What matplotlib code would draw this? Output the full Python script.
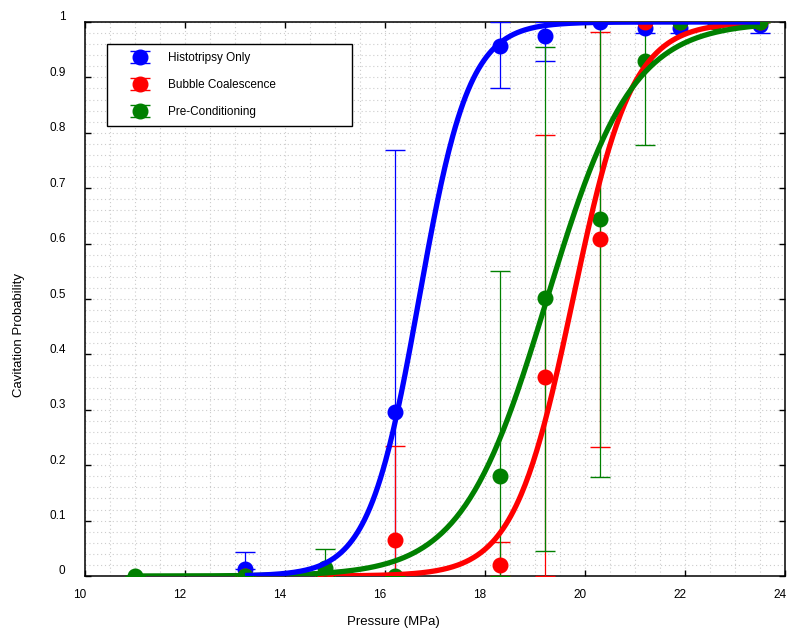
import matplotlib
matplotlib.use("Agg")
import matplotlib.pyplot as plt
import matplotlib.transforms as mtrans
from matplotlib.ticker import MultipleLocator
import numpy as np

plt.rcParams['font.family'] = ['Liberation Sans', 'DejaVu Sans']

# Histotripsy only
p_hist = [13.2, 16.2, 18.3, 19.2, 20.3, 21.2, 21.9, 22.6, 23.5]
y_hist = [0.013, 0.296, 0.957, 0.975, 1.0, 0.99, 0.99, 1.0, 0.995]
lo_hist = [0.013, 0.0, 0.881, 0.93, 1.0, 0.98, 0.98, 1.0, 0.98]
hi_hist = [0.043, 0.769, 1.0, 1.0, 1.0, 1.0, 1.0, 1.0, 1.0]

# Bubble coalescence
p_bub = [13.2, 14.8, 16.2, 18.3, 19.2, 20.3, 21.2, 21.9, 22.6, 23.5]
y_bub = [0.0, 0.0, 0.065, 0.02, 0.36, 0.608, 1.0, 1.0, 1.0, 1.0]
lo_bub = [0.0, 0.0, 0.0, 0.0, 0.0, 0.233, 1.0, 1.0, 1.0, 1.0]
hi_bub = [0.0, 0.0, 0.235, 0.061, 0.796, 0.982, 1.0, 1.0, 1.0, 1.0]

# Pre-conditioning
p_pre = [11.0, 13.2, 14.8, 16.2, 18.3, 19.2, 20.3, 21.2, 21.9, 22.6, 23.5]
y_pre = [0.0, 0.0, 0.015, 0.0, 0.18, 0.502, 0.645, 0.93, 1.0, 1.0, 1.0]
lo_pre = [0.0, 0.0, 0.0, 0.0, 0.0, 0.045, 0.179, 0.778, 1.0, 1.0, 1.0]
hi_pre = [0.0, 0.0, 0.049, 0.0, 0.551, 0.955, 1.0, 1.0, 1.0, 1.0, 1.0]

# fitted sigmoid parameters (midpoint MPa, width MPa)
fit_hist = (16.68, 0.50)
fit_bub = (19.76, 0.59)
fit_pre = (19.24, 0.85)

labels = ["Histotripsy Only", "Bubble Coalescence", "Pre-Conditioning"]
colors = ["#0000ff", "#ff0000", "#008000"]

fig = plt.figure(figsize=(8, 6.41), dpi=100)
ax = fig.add_axes([85/800, 1-576/641, 700/800, 554/641])

series = [(p_hist, y_hist, lo_hist, hi_hist, fit_hist),
          (p_bub, y_bub, lo_bub, hi_bub, fit_bub),
          (p_pre, y_pre, lo_pre, hi_pre, fit_pre)]

for (p, y, lo, hi, fit), lab, c in zip(series, labels, colors):
    y = np.array(y)
    err = [y - np.array(lo), np.array(hi) - y]
    ax.errorbar(p, y, yerr=err, fmt='o', color=c, ecolor=c, elinewidth=0.9,
                capsize=7, capthick=1.0, markersize=10.5, label=lab, zorder=3)

def sigmoid(x, x0, s):
    return 1.0 / (1.0 + np.exp(-(x - x0) / s))

for i in [1, 2, 0]:
    p, y, lo, hi, fit = series[i]
    xs = np.linspace(min(p), max(p), 400)
    ax.plot(xs, sigmoid(xs, *fit), color=colors[i], lw=3.8, zorder=4,
            solid_capstyle='butt')

ax.set_xlim(10, 24)
ax.set_ylim(0, 1)
ax.xaxis.set_major_locator(MultipleLocator(2))
ax.xaxis.set_minor_locator(MultipleLocator(0.5))
ax.yaxis.set_minor_locator(MultipleLocator(0.02))
ax.set_yticks(np.arange(0, 1.01, 0.1))
ax.set_yticklabels(["0", "0.1", "0.2", "0.3", "0.4", "0.5", "0.6", "0.7", "0.8", "0.9", "1"])
ax.grid(True, which='both', color='#cccccc', linestyle=(0, (1, 2.5)), lw=0.8)
ax.set_axisbelow(True)
ax.tick_params(which='major', direction='in', length=4, width=1, top=True, right=True,
               labelsize=8.5, colors='black')
ax.tick_params(axis='y', pad=14)
ax.tick_params(axis='x', pad=9)
ax.tick_params(which='minor', length=0)
for sp in ax.spines.values():
    sp.set_linewidth(1.1)

off_y = mtrans.ScaledTranslation(0, 6/100, fig.dpi_scale_trans)
for lbl in ax.get_yticklabels():
    lbl.set_transform(lbl.get_transform() + off_y)
off_x = mtrans.ScaledTranslation(-5/100, 0, fig.dpi_scale_trans)
for lbl in ax.get_xticklabels():
    lbl.set_transform(lbl.get_transform() + off_x)

ax.set_xlabel("Pressure (MPa)", fontsize=9.5)
ax.xaxis.set_label_coords(0.44, -0.072)
ax.set_ylabel("Cavitation Probability", fontsize=9.5)
ax.yaxis.set_label_coords(-0.086, 0.435)

leg = ax.legend(loc='upper left', bbox_to_anchor=(22/700, 1-104/554, 245/700, 82/554),
                mode='expand', borderaxespad=0, fancybox=False, edgecolor='black',
                framealpha=1, fontsize=8.5, labelspacing=1.25, handlelength=4.2,
                handletextpad=0.25, borderpad=0.7)
leg.get_frame().set_linewidth(1)

plt.savefig("out.png", dpi=100)
